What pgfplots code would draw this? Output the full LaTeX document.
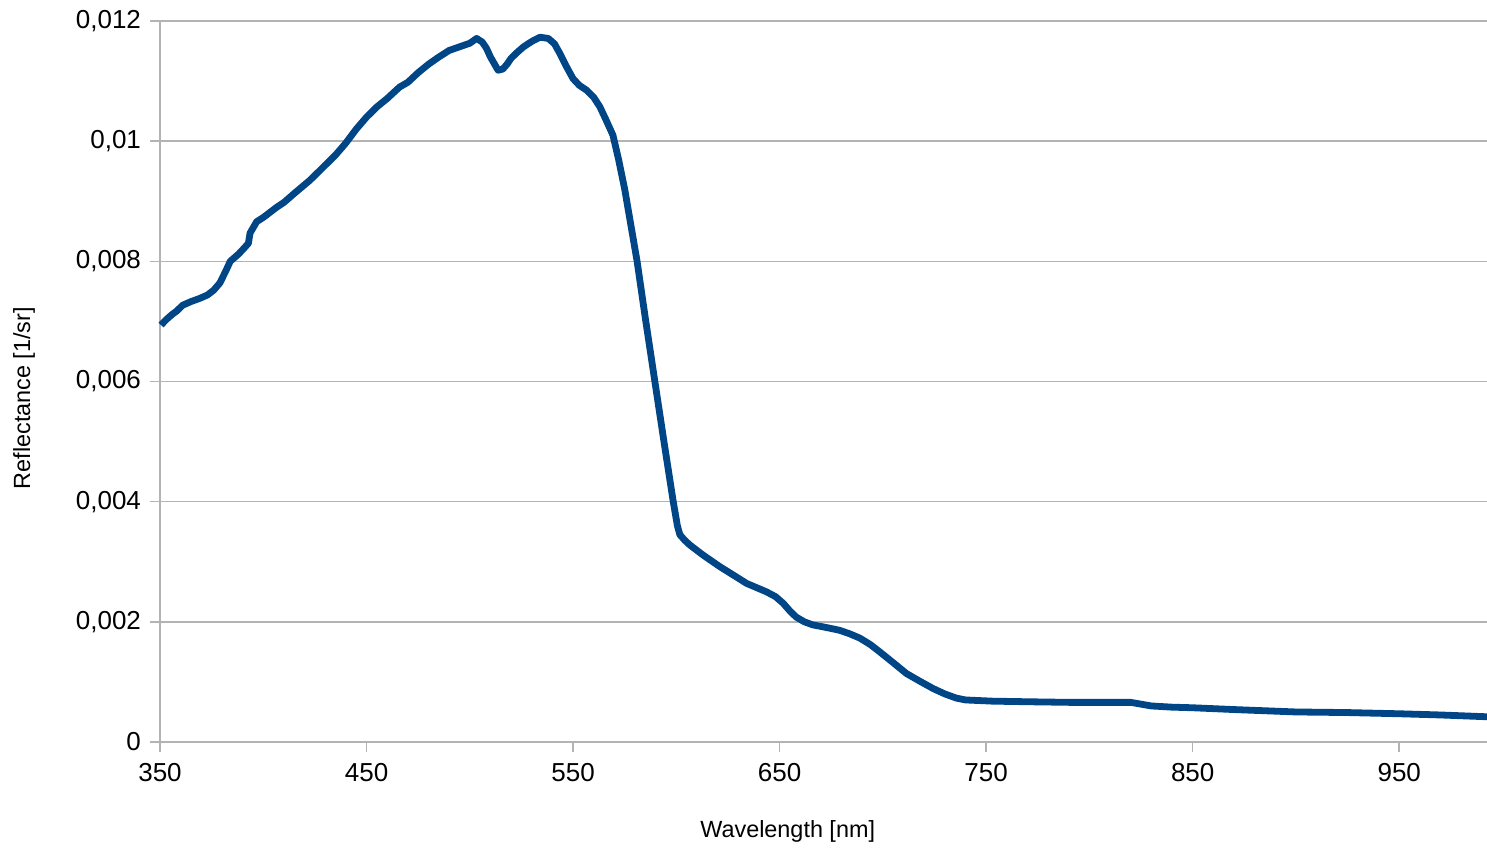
\documentclass[border=0pt]{standalone}
\usepackage{pgfplots}
\pgfplotsset{compat=1.18}
\usepackage{fontspec}
\setmainfont{Liberation Sans}
\definecolor{lineblue}{HTML}{004586}
\definecolor{gridgray}{HTML}{B3B3B3}
\begin{document}
\begin{tikzpicture}
\begin{axis}[
  scale only axis,
  width=663.5pt, height=360.5pt,
  xmin=350, xmax=992.5, ymin=0, ymax=0.012,
  axis x line*=bottom, axis y line*=left,
  axis line style={gridgray, line width=0.8pt, -},
  xtick={350,450,550,650,750,850,950},
  ytick={0,0.002,0.004,0.006,0.008,0.01,0.012},
  yticklabels={0,{0,002},{0,004},{0,006},{0,008},{0,01},{0,012}},
  scaled y ticks=false,
  tick style={gridgray, line width=0.8pt},
  tick align=outside,
  major tick length=5pt,
  ymajorgrids, grid style={gridgray, line width=0.8pt},
  /pgf/number format/assume math mode=true,
  ticklabel style={font=\fontsize{13}{15}\selectfont, text=black},
  xticklabel style={yshift=-2pt},
  yticklabel style={xshift=-1pt},
  label style={font=\fontsize{11.7}{14}\selectfont},
  xlabel={Wavelength [nm]},
  ylabel={Reflectance [1/sr]},
  xlabel style={at={(axis description cs:0.473,0)}, anchor=center, yshift=-44.5pt},
  ylabel style={at={(axis description cs:-0.1025,0.477)}, anchor=center},
  clip=false,
]
\coordinate (bl) at (rel axis cs:0,0);
\coordinate (tr) at (rel axis cs:1,1);
\addplot[lineblue, line width=3.4pt, line join=round] coordinates {
(350.5,0.00694) (353,0.00703) (356,0.00712) (358,0.00717) (361,0.00727) (365,0.00733)
(369,0.00738) (373,0.00744) (376,0.00752) (379,0.00764) (382,0.00785) (384,0.008)
(388,0.00812) (391,0.00823) (392.8,0.0083) (393.6,0.00847) (396.8,0.00866) (400,0.00873)
(406.5,0.0089) (410,0.00898) (415,0.00913) (422.6,0.00935) (430,0.0096) (435,0.00977)
(440,0.00997) (445,0.0102) (450,0.0104) (455,0.01057) (460,0.01071) (466,0.0109)
(470,0.01098) (475,0.01114) (480,0.01128) (485,0.0114) (490,0.01151) (495,0.01157)
(500,0.01163) (503.3,0.01171) (506,0.01165) (508,0.01155) (510,0.0114) (513.7,0.01118)
(516,0.0112) (518,0.01128) (520,0.01138) (523,0.01148) (526,0.01157) (530,0.01166)
(534,0.01173) (538,0.01171) (541,0.01162) (543.6,0.01146) (546.8,0.01124) (550,0.01104)
(553,0.01093) (556.5,0.01085) (560,0.01073) (563,0.01057) (566,0.01035) (569.3,0.0101)
(572,0.0097) (575,0.0092) (578,0.0086) (581,0.008) (585,0.00705) (589.6,0.006)
(594,0.005) (598.5,0.004) (600.5,0.0036) (601.7,0.00345) (604,0.00336) (606.5,0.00328)
(613,0.00311) (621,0.00292) (628,0.00277) (634,0.00264) (643.6,0.0025) (648,0.00242)
(651.7,0.00231) (655,0.00218) (658,0.00208) (662,0.002) (666,0.00195) (672,0.00191)
(679,0.00186) (684,0.0018) (688.8,0.00173) (694,0.00162) (698.5,0.0015) (705,0.00132)
(711.4,0.00114) (718,0.00101) (724.3,0.00089) (730,0.0008) (735.6,0.00073) (740,0.0007)
(753,0.00068) (770,0.00067) (790,0.00066) (810,0.00066) (820,0.00066) (825,0.00063)
(830,0.0006) (840,0.00058) (850,0.00057) (870,0.00054) (900,0.0005) (925,0.00049)
(950,0.00047) (970,0.00045) (992.5,0.00042)
};
\end{axis}
\pgfresetboundingbox
\path[use as bounding box] ([shift={(-80pt,-52.5pt)}]bl) rectangle ([shift={(0pt,10.5pt)}]tr);
\end{tikzpicture}
\end{document}
